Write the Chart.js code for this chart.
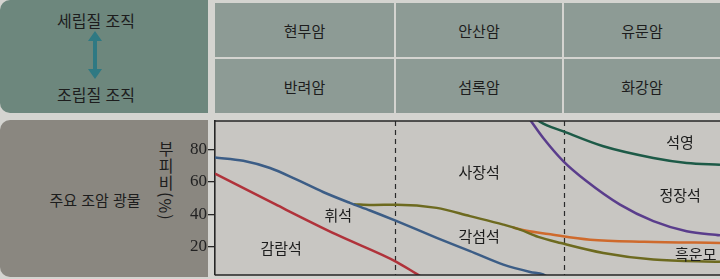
<!DOCTYPE html>
<html lang="ko">
<head>
<meta charset="utf-8">
<title>주요 조암 광물</title>
<script src="https://cdn.jsdelivr.net/npm/chart.js@4.4.1/dist/chart.umd.min.js"></script>
<style>
    html, body { margin: 0; padding: 0; }
    body {
        width: 720px; height: 279px; overflow: hidden; position: relative;
        background: #d4d4d0;
        font-family: "Noto Sans CJK KR", "Noto Sans", sans-serif;
        color: #1d1d1d;
    }
    .panel { position: absolute; }
    .texture-top { left: 0; top: 0; width: 208px; height: 113px; background: #6d877d; border-radius: 10px 0 0 10px; }
    .texture-bottom { left: 0; top: 120px; width: 208px; height: 157px; background: #8a8780; border-radius: 10px 0 0 10px; }
    .label { position: absolute; font-size: 15px; text-align: center; white-space: nowrap; line-height: 18px; }
    .cell {
        position: absolute; background: #8d9b95;
        display: flex; align-items: center; justify-content: center;
        font-size: 15px;
    }
    .y-title {
        position: absolute; left: 157px; top: 141px;
        writing-mode: vertical-rl; text-orientation: mixed;
        font-size: 16px; letter-spacing: 1px; line-height: 18px;
    }
    #chart-wrap { position: absolute; left: 150px; top: 118px; width: 570px; height: 161px; }
</style>
</head>
<body>
<div class="panel texture-top"></div>
<div class="label" style="left:0; top:11px; width:192px; font-size:16px;">세립질 조직</div>
<svg class="panel" style="left:88px; top:31px;" width="14" height="48" viewBox="0 0 14 48">
    <polygon points="7,0 14,10 9,10 9,38 14,38 7,48 0,38 5,38 5,10 0,10" fill="#2f7983"/>
</svg>
<div class="label" style="left:0; top:85px; width:192px; font-size:16px;">조립질 조직</div>

<div id="rock-table"></div>

<div class="panel texture-bottom"></div>
<div class="label" style="left:0; top:191px; width:190px;">주요 조암 광물</div>
<div class="y-title">부피비(%)</div>

<div id="chart-wrap"><canvas id="mineralChart"></canvas></div>

<script>
// 암석 이름 (윗줄: 세립질, 아랫줄: 조립질)
const fineRocks = ['현무암', '안산암', '유문암'];
const coarseRocks = ['반려암', '섬록암', '화강암'];

// y축 눈금
const volumeTicks = [20, 40, 60, 80];

// 경계선 (x: 0~100, 왼쪽 현무암 -> 오른쪽 유문암 / y: 부피비 %)
const olivineEdge = [[0, 65], [12, 46], [24, 27.5], [36, 10.5], [40, 3], [41.6, 0]];
const pyroxeneEdge = [[0, 75], [5.6, 73], [10.9, 68.5], [16.2, 61.3], [21.4, 53.7], [26.7, 47], [30.7, 42.3], [36, 35.7], [43.9, 25.4], [50.5, 17.2], [57.1, 8.9], [62.4, 4.4], [65, 2.8], [66.5, 0]];
const amphiboleEdge = [[27.5, 46.2], [31, 45.7], [36, 45.9], [43.9, 43.9], [50.5, 38.8], [57.1, 33.6], [60.4, 30.5], [64, 26], [68.5, 22.2], [76.9, 16.1], [86.8, 12], [100, 10.6]];
const biotiteEdge = [[59, 31.8], [61.7, 29.8], [66, 27.8], [74.3, 24.3], [85, 23], [100, 22.3]];
const orthoclaseEdge = [[62, 100], [62.7, 96.9], [65, 87], [69, 72.6], [73.6, 60.3], [80.2, 45.9], [86.8, 35.7], [93.4, 29.5], [100, 27]];
const quartzEdge = [[63.2, 100], [64.4, 96.9], [69, 91.1], [76.9, 81.9], [86.8, 74.7], [93.4, 71.6], [100, 70.5]];

// 암석 구분 점선 위치
const rockBounds = [35.6, 69.1];

// 광물 이름과 위치
const mineralNames = ['감람석', '휘석', '사장석', '각섬석', '석영', '정장석', '흑운모'];
const mineralX = [13.1, 24.4, 52.3, 52.3, 92.1, 92.1, 95.2];
const mineralY = [19.2, 39.6, 66, 26.6, 84.5, 51.9, 15.5];

document.addEventListener('DOMContentLoaded', function () {
    buildTable();
    initChart();
});

function buildTable() {
    const table = document.getElementById('rock-table');
    const colLeft = [215, 396, 564];
    const colRight = [394, 562, 720];
    let html = '';
    [fineRocks, coarseRocks].forEach((row, r) => {
        const top = r === 0 ? 3 : 59;
        row.forEach((name, c) => {
            html += `<div class="cell" style="left:${colLeft[c]}px; top:${top}px; width:${colRight[c] - colLeft[c]}px; height:54px;">${name}</div>`;
        });
    });
    table.innerHTML = html;
}

function toPoints(list) {
    return list.map(p => ({ x: p[0], y: p[1] }));
}

function edge(list, color) {
    return {
        data: toPoints(list),
        borderColor: color,
        borderWidth: 2.5,
        pointRadius: 0,
        cubicInterpolationMode: 'monotone',
        fill: false
    };
}

const decorPlugin = {
    id: 'decor',
    beforeDraw(chart) {
        const { ctx, chartArea: a } = chart;
        ctx.save();
        ctx.fillStyle = '#c8c6c2';
        ctx.fillRect(a.left, a.top, a.right - a.left, a.bottom - a.top);
        ctx.restore();
    },
    beforeDatasetsDraw(chart) {
        const { ctx, chartArea: a, scales } = chart;
        ctx.save();
        ctx.strokeStyle = '#2a2a2a';
        ctx.lineWidth = 1.2;
        ctx.setLineDash([5, 4]);
        rockBounds.forEach(v => {
            const x = Math.round(scales.x.getPixelForValue(v)) + 0.5;
            ctx.beginPath();
            ctx.moveTo(x, a.top);
            ctx.lineTo(x, a.bottom);
            ctx.stroke();
        });
        ctx.restore();
    },
    afterDraw(chart) {
        const { ctx, chartArea: a, scales } = chart;
        ctx.save();
        // 위/아래 테두리
        ctx.strokeStyle = '#262626';
        ctx.lineWidth = 1.6;
        ctx.beginPath();
        ctx.moveTo(a.left, a.top);
        ctx.lineTo(a.right, a.top);
        ctx.moveTo(a.left, a.bottom);
        ctx.lineTo(a.right, a.bottom);
        ctx.stroke();

        // 광물 이름
        ctx.fillStyle = '#1c1c1c';
        ctx.font = '15px "Noto Sans CJK KR", "Noto Sans", sans-serif';
        ctx.textAlign = 'center';
        ctx.textBaseline = 'middle';
        mineralNames.forEach((name, i) => {
            ctx.fillText(name, scales.x.getPixelForValue(mineralX[i]), scales.y.getPixelForValue(mineralY[i]));
        });
        ctx.restore();
    }
};

function initChart() {
    const ctx = document.getElementById('mineralChart');
    new Chart(ctx.getContext('2d'), {
        type: 'line',
        data: {
            datasets: [
                edge(olivineEdge, '#b0323a'),
                edge(pyroxeneEdge, '#3c5d86'),
                edge(amphiboleEdge, '#6d6a1f'),
                edge(biotiteEdge, '#cf6a2c'),
                edge(orthoclaseEdge, '#5a3d8c'),
                edge(quartzEdge, '#1d5a47')
            ]
        },
        options: {
            responsive: true,
            maintainAspectRatio: false,
            animation: false,
            layout: { padding: { left: 0, top: 3, right: 0, bottom: 4 } },
            plugins: {
                legend: { display: false },
                tooltip: { enabled: false }
            },
            scales: {
                x: { type: 'linear', min: 0, max: 100, display: false },
                y: {
                    min: 2.5,
                    max: 97.5,
                    afterBuildTicks: scale => { scale.ticks = volumeTicks.map(v => ({ value: v })); },
                    afterFit: scale => {
                        scale.width = 65;
                        scale.paddingTop = 0;
                        scale.paddingBottom = 0;
                    },
                    grid: { drawOnChartArea: false, drawTicks: true, tickLength: 7, color: '#262626', lineWidth: 1.3 },
                    border: { display: true, color: '#262626', width: 1.6 },
                    ticks: {
                        padding: 1,
                        color: '#222',
                        font: { family: '"Liberation Serif", serif', size: 17 }
                    }
                }
            }
        },
        plugins: [decorPlugin]
    });
}
</script>
</body>
</html>
